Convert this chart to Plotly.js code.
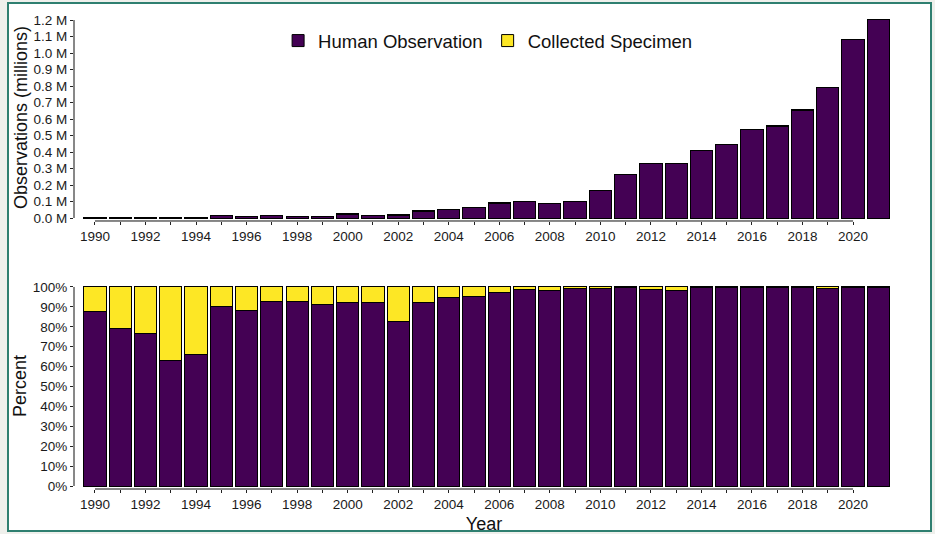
<!DOCTYPE html>
<html>
<head>
<meta charset="utf-8">
<script src="https://cdn.plot.ly/plotly-3.0.1.min.js"></script>
<style>
  html, body { margin: 0; padding: 0; width: 935px; height: 534px; background: #eff0ec; overflow: hidden; }
  #frame { position: absolute; left: 7px; top: 2px; width: 925px; height: 530px; box-sizing: border-box;
           border: 2px solid #2f7f70; background: #ffffff; }
  #chart { position: absolute; left: 0; top: 0; width: 935px; height: 534px; }
</style>
</head>
<body>
<div id="frame"></div>
<div id="chart"></div>
<script>
// ---- data ----
const years = [1990,1991,1992,1993,1994,1995,1996,1997,1998,1999,2000,2001,2002,2003,2004,2005,
               2006,2007,2008,2009,2010,2011,2012,2013,2014,2015,2016,2017,2018,2019,2020,2021];
// total observations per year, in millions
const totalObsMillions = [0.003,0.005,0.005,0.005,0.005,0.015,0.010,0.014,0.008,0.012,0.026,0.016,0.020,0.044,0.053,0.065,
                          0.091,0.099,0.087,0.103,0.165,0.265,0.333,0.333,0.410,0.448,0.539,0.558,0.655,0.794,1.085,1.204];
// share of Human Observation records, percent
const humanPct = [87.6,78.9,76.5,63.0,66.0,90.1,88.4,92.6,92.5,91.1,92.3,92.3,82.9,92.0,94.5,95.3,
                  97.1,98.6,98.0,99.3,99.4,99.7,98.8,98.3,99.8,99.8,99.8,99.8,99.9,99.3,99.7,99.9];
const seriesNames = ["Human Observation", "Collected Specimen"];
const seriesColors = ["#440154", "#fde725"];
const countTickVals = [0,100000,200000,300000,400000,500000,600000,700000,800000,900000,1000000,1100000,1200000];
const countTickText = ["0.0 M","0.1 M","0.2 M","0.3 M","0.4 M","0.5 M","0.6 M","0.7 M","0.8 M","0.9 M","1.0 M","1.1 M","1.2 M"];
const pctTickVals = [0,10,20,30,40,50,60,70,80,90,100];
const pctTickText = ["0%","10%","20%","30%","40%","50%","60%","70%","80%","90%","100%"];
const yearTickVals = years.slice(0, years.length - 1);            // 1990..2020
const yearTickText = yearTickVals.map(y => (y % 2 === 0 ? String(y) : ""));

// ---- derived series ----
const humanCount = totalObsMillions.map((t, i) => t * 1e6 * humanPct[i] / 100);
const specimenCount = totalObsMillions.map((t, i) => t * 1e6 - humanCount[i]);
const specimenPct = humanPct.map(p => 100 - p);

const FONT = "Liberation Sans, Arial, sans-serif";
const barWidth = 0.88;
const outline = { color: "#000000", width: 1 };

const traces = [
  { type: "bar", x: years, y: humanCount, name: seriesNames[0], width: barWidth,
    marker: { color: seriesColors[0], line: outline }, xaxis: "x", yaxis: "y", legendgroup: "h", showlegend: true },
  { type: "bar", x: years, y: specimenCount, name: seriesNames[1], width: barWidth,
    marker: { color: seriesColors[1], line: outline }, xaxis: "x", yaxis: "y", legendgroup: "s", showlegend: true },
  { type: "bar", x: years, y: humanPct, name: seriesNames[0], width: barWidth,
    marker: { color: seriesColors[0], line: outline }, xaxis: "x2", yaxis: "y2", legendgroup: "h", showlegend: false },
  { type: "bar", x: years, y: specimenPct, name: seriesNames[1], width: barWidth,
    marker: { color: seriesColors[1], line: outline }, xaxis: "x2", yaxis: "y2", legendgroup: "s", showlegend: false }
];

const tickFont = { family: FONT, size: 13.5, color: "#1a1a1a" };
const titleFont = { family: FONT, size: 18, color: "#111111" };
const xRange = [1989.17, 2021.62];

const xCommon = {
  range: xRange, tickmode: "array", tickvals: yearTickVals, ticktext: yearTickText,
  ticks: "outside", ticklen: 3, tickwidth: 1, tickcolor: "#222",
  showline: false, showgrid: false, zeroline: false, tickfont: tickFont, fixedrange: true
};
const yCommon = {
  ticks: "outside", ticklen: 3, tickwidth: 1, tickcolor: "#222", tickmode: "array",
  showline: false, showgrid: false, zeroline: false, tickfont: tickFont, fixedrange: true
};

const layout = {
  width: 935, height: 534,
  margin: { l: 74, r: 41, t: 10, b: 45 },
  paper_bgcolor: "rgba(0,0,0,0)", plot_bgcolor: "rgba(0,0,0,0)",
  barmode: "stack",
  font: { family: FONT, color: "#111" },
  showlegend: true,
  legend: { orientation: "h", x: 0.505, xanchor: "center", y: 0.9352, yanchor: "middle",
            font: { family: FONT, size: 18.5, color: "#111" }, bgcolor: "rgba(0,0,0,0)", traceorder: "normal" },
  xaxis: Object.assign({}, xCommon, { anchor: "y", domain: [0, 1] }),
  yaxis: Object.assign({}, yCommon, { domain: [0.5595, 0.9916], range: [-18182, 1236400],
          tickvals: countTickVals, ticktext: countTickText,
          title: { text: "Observations (millions)", font: titleFont, standoff: 1 } }),
  xaxis2: Object.assign({}, xCommon, { anchor: "y2", domain: [0, 1],
          title: { text: "Year", font: titleFont, standoff: 9 } }),
  yaxis2: Object.assign({}, yCommon, { domain: [0, 0.4301], range: [-1.508, 102.01],
          tickvals: pctTickVals, ticktext: pctTickText,
          title: { text: "Percent", font: titleFont, standoff: 1 } }),
  shapes: [
    // capped axis lines (span the break range, like the original)
    { type: "line", xref: "x domain", x0: 0, x1: 0, yref: "y", y0: countTickVals[0], y1: countTickVals[countTickVals.length-1], line: { color: "#111", width: 1 } },
    { type: "line", xref: "x", x0: yearTickVals[0], x1: yearTickVals[yearTickVals.length-1], yref: "y domain", y0: 0, y1: 0, line: { color: "#111", width: 1 } },
    { type: "line", xref: "x2 domain", x0: 0, x1: 0, yref: "y2", y0: pctTickVals[0], y1: pctTickVals[pctTickVals.length-1], line: { color: "#111", width: 1 } },
    { type: "line", xref: "x2", x0: yearTickVals[0], x1: yearTickVals[yearTickVals.length-1], yref: "y2 domain", y0: 0, y1: 0, line: { color: "#111", width: 1 } }
  ]
};

Plotly.newPlot("chart", traces, layout, { staticPlot: true, displayModeBar: false });
</script>
</body>
</html>
